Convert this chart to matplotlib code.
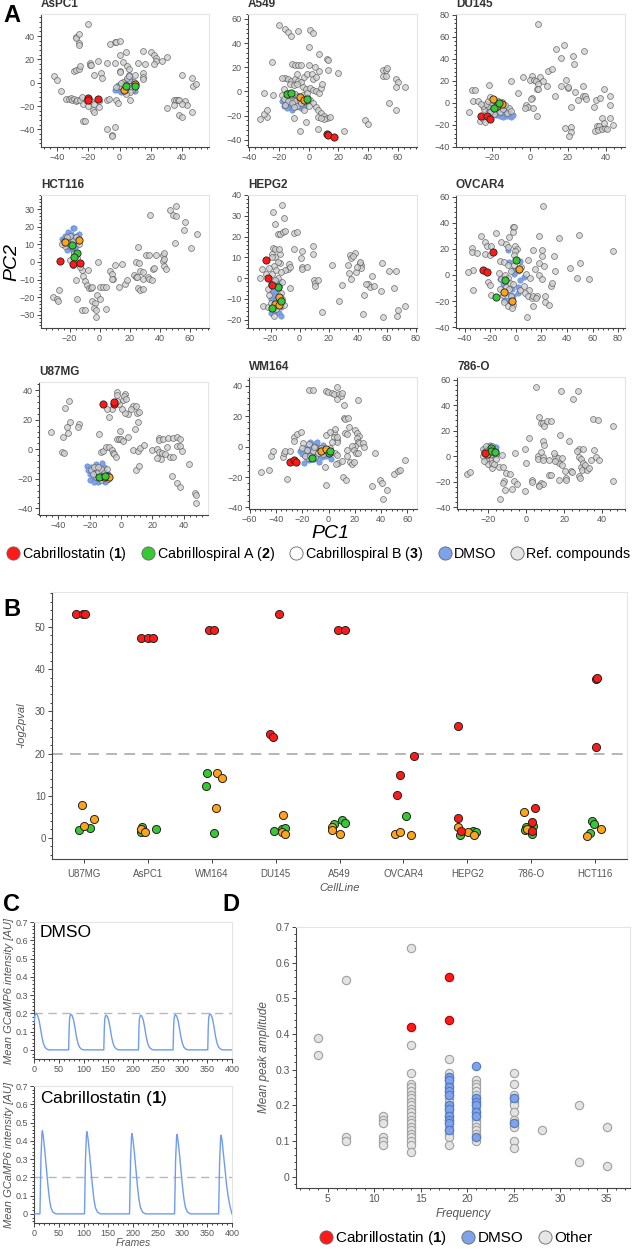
import matplotlib
matplotlib.use("Agg")
import matplotlib.pyplot as plt
from matplotlib.ticker import AutoMinorLocator, MultipleLocator
from matplotlib.lines import Line2D

plt.rcParams['font.family'] = ['Liberation Sans', 'DejaVu Sans']
plt.rcParams['mathtext.fontset'] = 'custom'
plt.rcParams['mathtext.bf'] = 'Liberation Sans:bold'
plt.rcParams['mathtext.rm'] = 'Liberation Sans'

# ---------------- Panel A data (PC1, PC2) ----------------
aspc1_ref = [(-42, 6), (-40, 2), (-37, -7), (-34, -14), (-32, -14), (-31, -13), (-30, -15), (-29, -14), (-28, -16),
             (-27, -15), (-25, -15), (-24, -12), (-23, -18), (-21, -16), (-20, -20), (-23, -33), (-22, -33), (-28, 39),
             (-28, 38), (-26, 42), (-26, 34), (-26, 32), (-20, 50), (-29, 10), (-28, 11), (-26, 12), (-25, 14),
             (-19, 17), (-19, 15), (-18, 15), (-14, 19), (-16, 7), (-12, 8), (-11, 4), (-6, 33), (-3, 35), (-2, 35),
             (0, 36), (0, 24), (4, 26), (2, 18), (5, 14), (6, 12), (0, 10), (0, 9), (-8, 17), (-3, 17), (15, 27),
             (20, 26), (22, 24), (23, 21), (23, 19), (22, 16), (27, 19), (30, 22), (12, 17), (16, 16), (15, 8),
             (15, 5), (15, 3), (10, 7), (6, 7), (-8, -15), (-7, -14), (-2, -15), (-1, -17), (7, -15), (-8, -40),
             (-3, -38), (-5, -45), (-5, -46), (-21, -15), (-18, -16), (-16, -18), (-13, -16), (-13, -21), (-17, -23),
             (-16, -25), (30, -22), (35, -15), (36, -15), (37, -15), (35, -19), (38, -15), (42, -16), (43, -19),
             (38, -28), (40, -29), (40, 7), (46, 4), (47, -3), (49, -1), (46, -25), (40, -18), (0, -3), (2, 1),
             (4, -6), (6, 2), (8, -6), (5, 4), (7, -8), (9, 1), (3, -2), (10, -3), (1, 0), (6, 6), (-2, -4), (4, -10),
             (7, -3)]
aspc1_dmso = [(-1, -6), (1, -3), (2, -1), (3, 0), (4, 2), (5, -2), (6, -4), (7, 0), (8, -2), (9, -5), (5, -7), (3, -8),
              (6, -1), (7, 3), (2, -5), (-3, -6), (10, -7), (4, -4), (8, 1), (1, -8), (-1, -2)]
aspc1_c1 = [(-20, -13), (-20, -15), (-14, -14)]
aspc1_c2 = [(4, -3), (10, -3)]
aspc1_c3 = [(3, -6), (10, -1)]

a549_ref = [(-20, 55), (-16, 52), (-14, 49), (-12, 46), (-7, 50), (1, 51), (3, 48), (0, 37), (7, 31), (12, 27),
            (13, 26), (13, 18), (20, 15), (0, 22), (4, 20), (7, 17), (-11, 23), (-9, 22), (-7, 22), (-5, 22),
            (-25, 24), (-16, 11), (-14, 10), (-12, 9), (-9, 10), (-7, 9), (-5, 8), (-3, 12), (-1, 14), (2, 14),
            (3, 10), (5, 12), (-13, 6), (-10, 5), (-8, 6), (-4, 4), (-2, 2), (1, 3), (3, 1), (5, 0), (7, -1), (8, 3),
            (9, 6), (-18, -3), (-15, -4), (-12, -6), (-9, -8), (-6, -7), (-3, -9), (-1, -5), (1, -7), (3, -10),
            (5, -13), (6, -15), (8, -18), (10, -20), (12, -22), (14, -21), (10, -23), (-10, -22), (-28, -21),
            (-30, -19), (-33, -23), (-28, -15), (-30, -1), (-24, -3), (-6, -33), (-2, -25), (24, -33), (6, -21),
            (8, -22), (-18, 11), (-17, 2), (-15, -1), (-8, 14), (50, 18), (52, 18), (53, 19), (50, 13), (52, 13),
            (59, 10), (60, 8), (59, 4), (65, 4), (54, -10), (59, -15), (38, -24), (40, -27), (6, -31), (-17, -6),
            (-14, -8), (-11, -10), (-8, -12), (-5, -10), (-2, -8), (-12, -3), (-9, -2), (-4, -3), (-1, -1),
            (-16, -11), (-7, -4), (-10, -13), (-3, -15), (0, -12)]
a549_dmso = [(-18, -8), (-16, -10), (-15, -7), (-14, -12), (-13, -9), (-12, -14), (-11, -8), (-10, -11), (-9, -13),
             (-8, -9), (-7, -12), (-6, -10), (-5, -14), (-4, -8), (-3, -12), (-17, -12), (-13, -5), (-9, -6),
             (-15, -14), (-6, -6), (-2, -10), (-11, -15)]
a549_c1 = [(12, -35), (13, -36), (17, -38)]
a549_c2 = [(-15, -2.5), (-12, -1.4), (-1, -6.5)]
a549_c3 = [(-6, -5), (-3, -7.5)]

du145_ref = [(4, 71), (13.5, 49), (18, 52), (28.6, 47), (22.5, 42.6), (16.3, 40.5), (23.3, 35), (9.5, 28.8),
             (11.8, 30.6), (-10, 20), (-3.5, 23), (1, 24), (0, 21), (2, 21), (3, 20), (5, 23), (7, 20), (4, 17),
             (3.5, 12.6), (4.4, 12.6), (8.8, 15), (-6.5, 9), (-21.4, 16.5), (-30.5, 12), (-29, 11.4), (-30.3, 1.5),
             (-27.5, 1.5), (-32.3, -8), (1.2, 4.5), (0.7, 3.6), (-1.9, -2.4), (-0.9, -4.2), (1.4, -5), (-2.6, -4.5),
             (3.9, -11.7), (13.2, 6.3), (16.1, 15), (19.1, 21), (19.8, 13.5), (20.2, 14.1), (23.9, 9.6), (27.9, 15),
             (27.7, 6.6), (28.9, 6), (29.6, 3.6), (25, 2.7), (21.4, -4.2), (34.7, 2.7), (36.8, 4.2), (39, 12.6),
             (42, 6), (41.9, -2.1), (33.9, -3.6), (37.7, -13.5), (42, -13.5), (43.5, -20.4), (18.4, -22.8),
             (21.4, -21.9), (21.6, -26.1), (20.7, -30), (35.3, -21), (36.3, -21), (34.2, -25.5), (36, -24.9),
             (38, -24), (39.6, -22.5), (40.5, -24), (38.8, -18.6), (-26.3, -16.5), (-24.9, -15), (-23.7, -17.4),
             (-24, -6), (-22, -3), (-20, 0), (-18, -3), (-16, -8), (-14, -6), (-12, -9), (-11, -5), (-19, -10),
             (-17, 2), (-13, -2), (-21, -8), (-15, 1), (-10, -7), (-25, -3), (-23, -1), (-22, 2), (-26, -1),
             (-21, 5), (-19, 3)]
du145_dmso = [(-22, -6), (-20, -9), (-18, -11), (-17, -7), (-16, -12), (-15, -9), (-14, -13), (-13, -10), (-12, -12),
              (-11, -8), (-10, -13), (-9, -11), (-19, -4), (-15, -5), (-21, -2), (-12, -6), (-16, -2), (-18, -7)]
du145_c1 = [(-25.8, -11.7), (-22.5, -11.7), (-20.9, -14.4)]
du145_c2 = [(-19, -4.5), (-16.3, 0)]
du145_c3 = [(-19.5, 3.3), (-17.5, -3), (-15, -0.9)]

hct116_ref = [(-27, -15.8), (-31, -20), (-28.4, -21), (-27.8, -22), (-16, -10), (-15, -21), (-12, -4.5), (-11, -8),
              (-9.5, -11), (-7.8, -4.5), (-8.4, -13), (-7, -15), (-5.5, -15), (-5, -14), (-11.6, -27), (-9.4, -27),
              (-4.9, -22), (-3.3, -23.3), (-4, -26), (-2.2, -31.4), (-2.2, -27.4), (-1.8, -18.6), (0, -20.9),
              (-0.9, 0), (0, -14), (2.2, -14), (4, -14), (4, -26.5), (6.7, -4.9), (8.4, -6.8), (8.9, -9.8),
              (8.4, -9.8), (10, -2), (15, -1.3), (12.9, -14), (16.7, -12.4), (18.4, -10.3), (22.7, -7.5), (24, -8.6),
              (25, -8.6), (24, 0), (26.2, -0.4), (25.5, -14.8), (26.7, -15.8), (28.9, -15.2), (26.7, -5.3),
              (28.9, -5.6), (29.3, -9.8), (32.2, -8.6), (33.3, -9.6), (35, -10.1), (30.7, 3.9), (32.9, 3.9),
              (37.8, 3.9), (42.2, 3.9), (43.3, 4.9), (42.2, 0.6), (43.1, -2.3), (44.4, -4), (42.9, 1.5), (25.5, 8.3),
              (33.8, 26.5), (35.6, -4), (36, -3.2), (46.7, 29.7), (51, 31.6), (48.9, 26.5), (50.7, 26), (56.9, 22.4),
              (56.2, 18), (50.2, 10.5), (61, 7.7), (65, 15.8), (-24, 12), (-22, 10), (-20, 9), (-18, 12), (-16, 14),
              (-14, 10), (-20, 15), (-22, 14), (-17, 5), (-15, 2), (-18, -2), (-20, 1), (-13, -3), (-23, 9),
              (-21, 11), (-25, 10)]
hct116_dmso = [(-25, 13), (-24, 10), (-23, 15), (-22, 12), (-21, 17), (-20, 14), (-19, 16), (-18, 19), (-17, 13),
               (-16, 15), (-15, 11), (-14, 16), (-20, 8), (-22, 7), (-18, 6), (-17, 19.5), (-23, 11), (-16, 9),
               (-19, 11)]
hct116_c1 = [(-26.2, 0.4), (-17.8, -0.9), (-12.9, -0.8)]
hct116_c2 = [(-18.2, 9.6), (-15.1, 5.3), (-16.9, 3)]
hct116_c3 = [(-22.9, 11.3), (-14, 12.6)]

hepg2_ref = [(-12.2, 35.4), (-18.4, 31.7), (-11, 29), (-17, 26.2), (-15, 21.4), (-13.3, 21.2), (-11.5, 22.3),
             (-10.3, 22.5), (-4, 21.5), (-1.8, 22), (-4, 14.2), (-18.4, 14.7), (-17, 14.2), (-27, 0), (-26.2, 4.5),
             (-18.9, 11.8), (-13.8, 11.8), (-13.3, 7.4), (-7.4, 6.6), (-8, 4.2), (-10.3, 3.9), (-6.9, -4.7),
             (-25.3, -13.6), (-6.9, 5.3), (2, 12.9), (1.1, 9.9), (1.6, 5.5), (1.6, 4.2), (5, 5.5), (9.2, 15.5),
             (9.2, 11.5), (9.7, -1), (10.3, -2.3), (12.4, -1), (10.3, -3.9), (22.3, 6.5), (29.4, -3.4),
             (27.1, -11.2), (15.4, -16.5), (34.5, 11.3), (35.6, 9.9), (37.9, 12), (36.8, 10.7), (33.3, 6.1),
             (34, 2.6), (35.6, -0.3), (38.6, 3.1), (41.4, 7.4), (42.3, 6.1), (42.5, 4.7), (39.5, 5.5), (41.8, 7.7),
             (47.1, -2.6), (48.3, -4.2), (51, -3.9), (49.9, 1), (46, -2.8), (44.1, -8.1), (43.7, -17.3), (57, 7.4),
             (56.1, -6), (57.5, -18.9), (61.6, 3.4), (65, -4.9), (66.7, 3.4), (67.8, -15.5), (67.4, -18),
             (72.6, -13.6), (-22, -14), (-21, -8), (-20, -3), (-19, 2), (-18, 6), (-17, 10), (-16, 4), (-15, 0),
             (-14, -4), (-13, -7), (-12, -10), (-21, 5), (-20, -12), (-18, -18), (-16, -15), (-15, 8), (-13, 3),
             (-12, -2), (-11, -13), (-19, 10), (-22, -5), (-23, 2), (-17, -1), (-14, 14)]
hepg2_dmso = [(-20, -17), (-19, -14), (-18, -12), (-17, -16), (-16, -10), (-15, -13), (-14, -17), (-13, -14),
              (-17, -8), (-19, -6), (-15, -6), (-14, -9), (-13, -18), (-18, -3), (-16, -1), (-20, -10), (-12, -12),
              (-14, -2)]
hepg2_c1 = [(-23.4, 8.9), (-21.6, 0.2), (-19.3, -3.1)]
hepg2_c2 = [(-15, -4.2), (-13.1, -11), (-18.9, -14.4)]
hepg2_c3 = [(-14.5, -9), (-17.2, -12.5), (-14.5, -12.8)]

ovcar4_ref = [(21.4, 53), (-2.1, 36.5), (-1.3, 36.5), (-2.1, 33.2), (-15.7, 31.9), (-26.9, 30.1), (-24.3, 25),
              (-22.5, 22.4), (-19.1, 21.9), (-33.9, 20.7), (-33.9, 17.3), (-30.3, 16.8), (-23.8, 16.3), (-20.1, 15.6),
              (-11.5, 25.3), (-7.3, 23.7), (-5.2, 28.8), (-5.7, 21.4), (-0.5, 21.9), (1, 19.9), (-0.8, 18.1),
              (-1.3, 15.6), (-12.5, 11), (-9.4, 9.7), (-6, 7.9), (-33.4, 4.1), (-37.1, 2.6), (-33.4, -11.5),
              (-21.7, -5.6), (-20.4, -7.4), (-19.6, -15.3), (-11.5, -3.1), (-8.1, -0.3), (-6, -2.3), (-4.7, -6.1),
              (-2.1, -6.6), (-7.3, -9.2), (-5.2, -11), (-8.9, -20.9), (-6, -24), (-2.1, -22.7), (-2.6, -25.5),
              (3.1, -11.2), (6.3, -8.2), (10.4, -11.2), (7.6, -13.8), (9.7, -16.3), (12.8, -17.6), (13.6, -15.8),
              (16.7, -16.3), (16.2, -17.6), (13.6, -24), (8.9, -32.4), (22.7, -15.8), (23, -20.4), (25.8, -22.7),
              (27.2, -8.7), (28.2, -6.1), (30.3, 3.3), (29.8, 14.8), (17.8, 29.6), (33.9, 28.3), (49.1, 30.6),
              (50.6, 9.2), (42.3, 5.1), (48, -2.3), (57.4, -3.1), (75.7, 18.1), (20.4, 18.9), (20.4, 14.8),
              (18.5, 9.2), (22.2, 7.1), (14.9, 4.6), (17.8, 0.3), (20.6, -3.1), (8.4, 1), (11, -2.3), (13.6, 19.4),
              (9.7, 11.2), (-13, 1.5), (-12.5, -10.7), (-4, 3), (-1, 8), (4, 6), (-10, -15), (-4, -16)]
ovcar4_dmso = [(-6.3, 19.4), (-5.2, 10.2), (3.1, 11), (6.3, -1.3), (3.1, -4), (1.8, -9.4), (-2.9, -10.7),
               (-4.7, -15), (-2.1, -16.3), (-9.4, -18.9), (-12.5, -3.1), (-7.8, -3.6), (-2.1, 4.1), (-1.3, 1),
               (1.8, 2.8), (-10, -7), (-6, -19), (2, -14), (-3, -20)]
ovcar4_c1 = [(-17.5, 17.3), (-25.6, 3.6), (-22.2, 2.3)]
ovcar4_c2 = [(0.5, 11.2), (-8.1, -4.1), (-15.1, -16.8)]
ovcar4_c3 = [(2.3, 4.6), (-8.9, -13), (-2.9, -19.6)]

u87mg_ref = [(-44.7, 11.5), (-37.2, 8.6), (-35.5, 28.2), (-33.1, 32.9), (-34.8, 15.3), (-33.8, 10.8), (-32.7, 18.7),
             (-26.9, 17.3), (-27.4, 15.3), (-37.4, -1.6), (-36.5, -2.3), (-14.1, 10.1), (-13, -1.6), (-11.3, -1.1),
             (-9.6, 1.8), (-7.5, 1.4), (-6, -0.5), (-5.3, -2.3), (-4.5, -3.2), (-3.2, -5), (-2.4, 6.8), (-1.1, 6.8),
             (0, 6.8), (1.5, 5.6), (4.7, 8.6), (7.5, -0.5), (10.7, -1.1), (9.6, -14), (11.8, -11.3), (12.2, 1.1),
             (14.7, 2.9), (-0.6, 12.6), (9, 13.5), (11.1, 18.2), (10.5, 24.8), (11.8, 25), (7.9, 29.3), (9.6, 29.5),
             (6.4, 27.3), (4.7, 23.9), (2.6, 24.8), (0.4, 27), (1.5, 33.3), (-1.1, 30.6), (-2.8, 39), (-2.4, 36.5),
             (2.6, 37.4), (2.1, 36), (3.2, 34), (-7.5, 21.6), (-6, 27), (-9.2, 27), (-2.8, 32.7), (20.1, -0.5),
             (22.9, 0), (24.6, 7.4), (24.6, 6.1), (27.1, 7), (30.3, 7.4), (33.5, 7.4), (36.1, 8.1), (37.8, 6.8),
             (24.6, -1.6), (26.1, -2.3), (28.2, -3.2), (31, -5.4), (33.5, -5.4), (35.7, 2.3), (37.4, 2.3),
             (38.9, -0.9), (25.4, -6.8), (22.9, -6.1), (29.3, 1.8), (32.5, -18), (36.1, -22.5), (38, -25.2),
             (43.6, -10.1), (47.4, -29.7), (48.1, -30.9), (48.1, -36.5), (-19, -14), (-17, -12), (-15, -15),
             (-13, -13), (-11, -16), (-9, -13), (-16, -19), (-18, -17), (-13, -21), (-8, -20), (-12, -18),
             (-15, -12), (-10, -19)]
u87mg_dmso = [(-22, -11), (-21, -14), (-20, -17), (-19, -12), (-18, -20), (-17, -15), (-16, -10), (-15, -22),
              (-14, -13), (-13, -17), (-12, -20), (-11, -12), (-10, -15), (-9, -21), (-8, -17), (-20, -21),
              (-17, -22), (-12, -9), (-10, -22), (-14, -19)]
u87mg_c1 = [(-11.8, 30.6), (-4.3, 30.6), (-4.3, 31.8)]
u87mg_c2 = [(-14.1, -18.9), (-10.5, -17.8)]
u87mg_c3 = [(-9.2, -18), (-7.9, -18.9), (-10.9, -18.5)]

wm164_ref = [(-51.6, -17), (-45.3, -15.2), (-44, -6.5), (-42.5, -2.6), (-35, -7), (-33.9, -3.9), (-33.2, -3),
             (-31.9, -21.3), (-29.4, -2.8), (-26.1, 6.1), (-26.1, 3.7), (-23.8, 8.3), (-21, 9.3), (-19.2, 2.6),
             (-14.7, 37.4), (-11.6, 37.4), (-2, 36.5), (-0.5, 35.9), (2.3, 35.4), (4.3, 34.8), (6.6, 39.1),
             (8.1, 34.8), (9.4, 33), (6.1, 31.5), (9.9, 35.2), (11.9, 27.2), (22.3, 30.4), (11.6, 18.9), (12.2, 18),
             (14.9, 18.5), (15.4, 13), (20, 10.9), (21.8, 9.1), (22.8, 7), (21.3, 5.4), (22.3, 3.3), (23.3, 2.6),
             (26.3, 2.6), (26.8, -0.4), (20, 0.4), (17.5, 0.4), (19.2, -2.2), (20.8, -3.9), (22.5, -4.3),
             (16.7, -10.4), (17.5, -11.3), (19.5, -10.4), (12.9, 8.7), (14.4, 8), (4.1, 8.7), (5.3, 11.3),
             (4.1, 6.5), (6.1, 4.3), (6.8, 3.3), (3, 3.3), (-2, 7.6), (1, 9.8), (6.1, 6.5), (4.8, -4.3), (6.1, -5.4),
             (7.3, -10.9), (5.6, -11.3), (10.4, -9.8), (13.7, -2.2), (13.7, -6.5), (-3, -13.5), (-1.8, -25),
             (11.1, -20), (13.2, -21.7), (35.2, -3.9), (32.7, -25.7), (39, -21.7), (40.3, -23.9), (41.5, -34.3),
             (44.6, -28.7), (49.6, -17.8), (52.9, -16.3), (54.2, -15.2), (58.5, -8.7), (-10.4, -0.4),
             (-15.4, -7.6), (-20, -1), (-18, -6), (-16, -2), (-14, -6), (-12, -3), (-10, -7), (-8, -4), (-6, -1),
             (-4, -5), (-2, -2), (1, -1), (-15, 2), (-11, 0)]
wm164_dmso = [(-22, -3), (-20, -5), (-18, -1), (-17, -7), (-16, -3), (-15, -9), (-14, -1), (-13, -5), (-12, 2),
              (-11, -8), (-10, -2), (-9, -6), (-8, 0), (-7, -10), (-6, -4), (-5, -7), (-3, -3), (-2, -6), (0, -5),
              (2, -8), (-19, -11), (-14, 3), (-9, 3), (-4, 1)]
wm164_c1 = [(-29.4, -10.4), (-26.1, -8.7), (-24.8, -10)]
wm164_c2 = [(-12.2, -7.8), (0.3, -3.9), (1, -2.6)]
wm164_c3 = [(-6.1, -2.8), (-2, -1.7)]

o786_ref = [(4.9, 53.8), (18.1, 51.2), (27.2, 51.2), (24.6, 44.4), (6.5, 30.9), (7.9, 26.2), (9.1, 25.7),
            (9.6, 23.6), (10.9, 27.8), (13, 27.8), (35.1, 29.4), (38.1, 28.3), (45.6, 23.9), (17.9, 16.6),
            (22.6, 11.7), (1.6, 14.5), (9.1, 12.2), (9.6, 8.8), (28.1, 5.5), (30.2, 6), (35.8, 4.9), (26.7, 4.4),
            (-0.4, 6), (-5.8, 2.3), (0, -5.5), (6, 0.3), (6, -1.8), (8.8, -0.8), (7.9, 3.6), (8.8, -2.9),
            (11.8, -2.9), (15.3, 0.3), (16.1, -3.6), (17.2, -5.5), (18.8, -7), (14.4, 2.9), (17, -1), (15.3, -3.4),
            (11.8, -14.5), (13, -14.5), (17.5, -18.4), (20.5, -11.4), (21.1, -17.1), (23.5, -11.4), (24.1, -12.2),
            (21.1, -18.4), (7, -22.3), (7.7, -21), (9.1, -21.8), (6.5, -23.6), (3, -18.4), (3.3, -20.3),
            (28.1, -0.3), (29, -2.3), (29, -8.1), (30.2, -5.5), (31.1, -6.5), (28.1, -15.8), (28.4, -17.1),
            (29.3, -10.6), (32.3, -10.6), (33.3, -9.4), (34, -2.9), (36.9, -0.8), (38.6, -2.9), (45.6, -19.2),
            (19.1, -1.6), (-0.5, -27.5), (-6.7, -19.7), (-4.9, -21.8), (-7.5, -25.5), (-11.6, -19.2), (-12.5, -21),
            (-11, -26.2), (-13.7, -33.2), (-14.4, -8.1), (-12.5, -8.8), (-10.5, -13.2), (-8.8, -13.8),
            (-12.8, 1), (-31.2, -13.8), (-29.5, -12.7), (-18.1, -9.4), (-23, 6), (-22, 3), (-21, 8), (-20, 5),
            (-19, 1), (-18, 8), (-17, 4), (-16, 2), (-19, -3), (-20, -6), (-18, -5), (-21, -2), (-23, 0),
            (-17, -6), (-16, -2), (-22, -4)]
o786_dmso = [(-22, 6), (-21, 3), (-20, 8), (-19, 5), (-18, 2), (-17, 7), (-16, 4), (-21, 0), (-19, 9), (-17, 1),
             (-20, -1), (-16, 7)]
o786_c1 = [(-21.6, 2.9)]
o786_c2 = [(-18.6, 6.2), (-18.6, 4.4), (-16.3, 3.4)]
o786_c3 = [(-20.7, 1.6)]

# ---------------- Panel B data ----------------
cell_lines = ['U87MG', 'AsPC1', 'WM164', 'DU145', 'A549', 'OVCAR4', 'HEPG2', '786-O', 'HCT116']
b_c1_cat = [0, 0, 0, 1, 1, 1, 2, 2, 3, 3, 3, 4, 4, 5, 5, 5, 6, 6, 6, 7, 7, 7, 8, 8, 8]
b_c1_jit = [-0.13, -0.02, 0.01, -0.11, 0.0, 0.08, -0.05, 0.03, 0.06, -0.09, -0.04, -0.03, 0.09, -0.06, -0.1, 0.16,
            -0.15, -0.14, -0.1, 0.06, 0.01, 0.02, 0.01, 0.03, 0.01]
b_c1_val = [53, 53, 53, 47.5, 47.5, 47.5, 49.2, 49.2, 53, 24.6, 23.9, 49.2, 49.2, 15.0, 10.2, 19.5, 26.5, 4.7, 1.7,
            7.1, 3.7, 1.7, 37.6, 38.0, 21.6]
b_c2_cat = [0, 0, 1, 1, 1, 2, 2, 2, 3, 3, 3, 4, 4, 4, 5, 6, 6, 6, 7, 7, 7, 7, 8, 8, 8]
b_c2_jit = [-0.08, 0.1, -0.09, -0.11, 0.13, -0.08, -0.09, 0.04, -0.03, 0.1, 0.15, -0.09, 0.04, 0.08, 0.04, -0.12,
            0.09, 0.14, -0.08, 0.03, 0.01, -0.1, -0.05, -0.02, -0.08]
b_c2_val = [1.8, 2.4, 2.7, 1.5, 2.0, 15.4, 12.2, 1.2, 1.7, 2.2, 2.4, 3.4, 4.2, 3.5, 5.3, 0.6, 1.7, 1.4, 2.7, 2.9,
            0.9, 1.8, 4.1, 3.3, 1.2]
b_c3_cat = [0, 0, 0, 1, 1, 2, 2, 2, 3, 3, 3, 4, 4, 4, 5, 5, 5, 6, 6, 6, 7, 7, 8, 8]
b_c3_jit = [-0.03, 0.0, 0.15, -0.1, -0.04, 0.08, 0.16, 0.06, 0.11, 0.1, 0.14, -0.11, -0.11, 0.0, -0.13, -0.05, 0.12,
            -0.14, 0.01, 0.11, -0.11, -0.06, -0.12, 0.1]
b_c3_val = [7.9, 2.9, 4.6, 2.1, 1.3, 15.4, 14.2, 7.0, 5.4, 1.4, 0.9, 2.7, 1.8, 0.9, 1.0, 1.3, 0.6, 2.5, 1.4, 0.7,
            6.1, 2.0, 0.4, 2.2]
b_threshold = 20

# ---------------- Panel C data ----------------
dmso_frames = [0, 2, 4, 7, 10, 13, 16, 19, 22, 26, 30, 70,
               71, 72, 74, 77, 80, 83, 86, 89, 92, 96, 100, 141,
               142, 143, 145, 148, 151, 154, 157, 160, 163, 167, 171, 211,
               212, 213, 215, 218, 221, 224, 227, 230, 233, 237, 241, 281,
               282, 283, 285, 288, 291, 294, 297, 300, 303, 307, 311, 351,
               352, 353, 355, 358, 361, 364, 367, 370, 373, 377, 381, 400]
dmso_signal = [0.15, 0.19, 0.2, 0.19, 0.165, 0.12, 0.07, 0.035, 0.015, 0.004, 0.0, 0.0,
               0.12, 0.175, 0.195, 0.188, 0.163, 0.118, 0.068, 0.034, 0.014, 0.004, 0.0, 0.0,
               0.115, 0.17, 0.19, 0.184, 0.16, 0.116, 0.067, 0.033, 0.014, 0.004, 0.0, 0.0,
               0.115, 0.17, 0.19, 0.184, 0.16, 0.116, 0.067, 0.033, 0.014, 0.004, 0.0, 0.0,
               0.118, 0.172, 0.193, 0.186, 0.162, 0.117, 0.068, 0.034, 0.014, 0.004, 0.0, 0.0,
               0.12, 0.177, 0.198, 0.19, 0.165, 0.12, 0.07, 0.035, 0.015, 0.004, 0.0, 0.0]
cab_frames = [0, 12, 14, 16, 17, 19, 22, 25, 28, 31, 34, 38, 44, 102,
              104, 106, 107, 109, 112, 115, 118, 121, 124, 128, 134, 193,
              195, 197, 198, 200, 203, 206, 209, 212, 215, 219, 225, 284,
              286, 288, 289, 291, 294, 297, 300, 303, 306, 310, 316, 373,
              375, 377, 378, 380, 383, 386, 389, 392, 396, 400]
cab_signal = [0.0, 0.0, 0.3, 0.44, 0.455, 0.42, 0.34, 0.25, 0.16, 0.085, 0.035, 0.01, 0.0, 0.0,
              0.3, 0.435, 0.45, 0.415, 0.335, 0.245, 0.155, 0.08, 0.035, 0.01, 0.0, 0.0,
              0.29, 0.425, 0.44, 0.405, 0.33, 0.24, 0.15, 0.08, 0.035, 0.01, 0.0, 0.0,
              0.29, 0.42, 0.435, 0.4, 0.325, 0.235, 0.15, 0.08, 0.035, 0.01, 0.0, 0.0,
              0.29, 0.415, 0.43, 0.4, 0.32, 0.24, 0.16, 0.1, 0.04, 0.0]
c_threshold = 0.2

# ---------------- Panel D data ----------------
d_other = {4: [0.39, 0.34],
           7: [0.55, 0.11, 0.10],
           11: [0.17, 0.16, 0.15, 0.11, 0.10, 0.09],
           14: [0.64, 0.37, 0.29, 0.26, 0.25, 0.24, 0.23, 0.22, 0.21, 0.20, 0.19, 0.18, 0.17, 0.16, 0.15, 0.14,
                0.13, 0.12, 0.11, 0.10, 0.09, 0.07],
           18: [0.33, 0.29, 0.28, 0.27, 0.26, 0.25, 0.24, 0.23, 0.22, 0.21, 0.20, 0.19, 0.18, 0.17, 0.16, 0.15,
                0.14, 0.13, 0.12, 0.11, 0.09],
           21: [0.27, 0.26, 0.25, 0.24, 0.23, 0.22, 0.21, 0.20, 0.19, 0.18, 0.17, 0.16, 0.15, 0.14, 0.13, 0.12,
                0.11, 0.10],
           25: [0.29, 0.26, 0.23, 0.22, 0.21, 0.20, 0.18, 0.16, 0.15, 0.14, 0.10, 0.08],
           28: [0.13],
           32: [0.20, 0.04],
           35: [0.14, 0.03]}
d_dmso = {18: [0.28, 0.27, 0.25, 0.24, 0.23, 0.20, 0.19, 0.17, 0.16, 0.15, 0.13],
          21: [0.31, 0.22, 0.21, 0.20, 0.18, 0.17, 0.11],
          25: [0.22, 0.15]}
d_c1 = {14: [0.42], 18: [0.56, 0.44]}

# ---------------- colours ----------------
RED = '#ff1a1a'
GREEN = '#35c935'
ORANGE = '#ffa31a'
BLUE = '#7ea3e8'
TXT = '#555555'

W, H = 632, 1249
fig = plt.figure(figsize=(W / 100, H / 100), dpi=100)


def add_px(l, t, r, b):
    return fig.add_axes([l / W, 1 - b / H, (r - l) / W, (b - t) / H])


def style(ax, labelsize=6.5):
    for s in ['top', 'right']:
        ax.spines[s].set_color('#e4e4e4')
        ax.spines[s].set_linewidth(0.8)
    for s in ['left', 'bottom']:
        ax.spines[s].set_color('#444444')
        ax.spines[s].set_linewidth(0.8)
    ax.tick_params(which='both', direction='out', color='#444444', labelcolor=TXT,
                   labelsize=labelsize, width=0.7, pad=1.5)
    ax.tick_params(which='major', length=3)
    ax.tick_params(which='minor', length=1.5)


def xy(points):
    return [p[0] for p in points], [p[1] for p in points]


def pca_panel(box, name, ref, dmso, c1, c2, c3, xlim, ylim, xstep, ystep):
    ax = add_px(*box)
    ax.scatter(*xy(dmso), s=15, c=BLUE, edgecolors='#5f86cf', linewidths=0.4, zorder=2)
    ax.scatter(*xy(ref), s=18, c='#d0d0d0', edgecolors='#5a5a5a', linewidths=0.55, alpha=0.8, zorder=3)
    for pts, col in [(c3, ORANGE), (c2, GREEN), (c1, RED)]:
        ax.scatter(*xy(pts), s=27, c=col, edgecolors='#222222', linewidths=0.6, zorder=4)
    ax.set_xlim(xlim)
    ax.set_ylim(ylim)
    ax.xaxis.set_major_locator(MultipleLocator(xstep))
    ax.yaxis.set_major_locator(MultipleLocator(ystep))
    ax.xaxis.set_minor_locator(AutoMinorLocator(5))
    ax.yaxis.set_minor_locator(AutoMinorLocator(5))
    style(ax)
    ax.text(0.0, 1.03, name, transform=ax.transAxes, fontsize=8.5, fontweight='bold',
            color='#333333', ha='left', va='bottom')
    return ax


pca_panel((41, 14, 209, 147), 'AsPC1', aspc1_ref, aspc1_dmso, aspc1_c1, aspc1_c2, aspc1_c3,
          (-50, 57), (-55, 59), 20, 20)
pca_panel((248, 14, 417, 147), 'A549', a549_ref, a549_dmso, a549_c1, a549_c2, a549_c3,
          (-41, 73), (-46, 64), 20, 20)
pca_panel((456, 14, 625, 147), 'DU145', du145_ref, du145_dmso, du145_c1, du145_c2, du145_c3,
          (-39, 50), (-40, 80.5), 20, 20)
pca_panel((41, 195, 209, 328), 'HCT116', hct116_ref, hct116_dmso, hct116_c1, hct116_c2, hct116_c3,
          (-39, 73), (-37.5, 38), 20, 10)
pca_panel((248, 195, 417, 328), 'HEPG2', hepg2_ref, hepg2_dmso, hepg2_c1, hepg2_c2, hepg2_c3,
          (-35.6, 81), (-24, 40), 20, 10)
pca_panel((456, 195, 625, 328), 'OVCAR4', ovcar4_ref, ovcar4_dmso, ovcar4_c1, ovcar4_c2, ovcar4_c3,
          (-46.7, 85.4), (-40.6, 61.2), 20, 20)
pca_panel((39, 382, 208, 515), 'U87MG', u87mg_ref, u87mg_dmso, u87mg_c1, u87mg_c2, u87mg_c3,
          (-52.4, 55.6), (-44.4, 45.5), 20, 20)
pca_panel((249, 377, 417, 509), 'WM164', wm164_ref, wm164_dmso, wm164_c1, wm164_c2, wm164_c3,
          (-60.5, 67.3), (-41, 45.7), 20, 20)
pca_panel((457, 377, 625, 509), '786-O', o786_ref, o786_dmso, o786_c1, o786_c2, o786_c3,
          (-36.5, 52.1), (-41.3, 62), 20, 20)

fig.text(12 / W, 1 - 262 / H, 'PC2', rotation=90, fontsize=14, fontstyle='italic', ha='center', va='center')
fig.text(330 / W, 1 - 533 / H, 'PC1', fontsize=14, fontstyle='italic', ha='center', va='center')

legend_a = [
    Line2D([], [], ls='', marker='o', ms=9.5, mfc=RED, mec='#666666', mew=0.6, label='Cabrillostatin ($\\mathbf{1}$)'),
    Line2D([], [], ls='', marker='o', ms=9.5, mfc=GREEN, mec='#666666', mew=0.6, label='Cabrillospiral A ($\\mathbf{2}$)'),
    Line2D([], [], ls='', marker='o', ms=9.5, mfc='white', mec='#666666', mew=0.6, label='Cabrillospiral B ($\\mathbf{3}$)'),
    Line2D([], [], ls='', marker='o', ms=9.5, mfc=BLUE, mec='#666666', mew=0.6, label='DMSO'),
    Line2D([], [], ls='', marker='o', ms=9.5, mfc='#e6e6e6', mec='#666666', mew=0.6, label='Ref. compounds'),
]
fig.legend(handles=legend_a, loc='center', bbox_to_anchor=(318 / W, 1 - 554 / H), ncol=5, frameon=False,
           fontsize=10.3, handletextpad=0.1, columnspacing=1.0, handlelength=1.0, borderpad=0)

# ---------------- Panel B ----------------
axb = add_px(52, 592, 627, 859)
for cats, jit, vals, col in [(b_c2_cat, b_c2_jit, b_c2_val, GREEN), (b_c3_cat, b_c3_jit, b_c3_val, ORANGE),
                             (b_c1_cat, b_c1_jit, b_c1_val, RED)]:
    axb.scatter([c + j for c, j in zip(cats, jit)], vals, s=34, c=col, edgecolors='#222222',
                linewidths=0.7, zorder=3)
axb.axhline(b_threshold, color='#b0b0b0', lw=1.3, ls=(0, (6, 4)), zorder=1)
axb.set_xlim(-0.5, len(cell_lines) - 0.5)
axb.set_ylim(-5, 58.3)
axb.set_xticks(range(len(cell_lines)))
axb.set_xticklabels(cell_lines)
axb.yaxis.set_major_locator(MultipleLocator(10))
axb.yaxis.set_minor_locator(MultipleLocator(2))
style(axb, labelsize=7)
axb.tick_params(axis='x', pad=4)
axb.set_xlabel('CellLine', fontsize=8, fontstyle='italic', color=TXT, labelpad=3)
axb.set_ylabel('-log2pval', fontsize=8, fontstyle='italic', color=TXT, labelpad=6)

# ---------------- Panel C ----------------
for box, frames, signal, title in [((34, 922, 232, 1059), dmso_frames, dmso_signal, 'DMSO'),
                                   ((34, 1086, 232, 1223), cab_frames, cab_signal, 'Cabrillostatin ($\\mathbf{1}$)')]:
    axc = add_px(*box)
    axc.plot(frames, signal, color='#6f9cf0', lw=1.0, zorder=3)
    axc.axhline(c_threshold, color='#b8b8b8', lw=1.0, ls=(0, (6, 4)), zorder=1)
    axc.set_xlim(0, 400)
    axc.set_ylim(-0.05, 0.7)
    axc.xaxis.set_major_locator(MultipleLocator(50))
    axc.xaxis.set_minor_locator(MultipleLocator(10))
    axc.yaxis.set_major_locator(MultipleLocator(0.1))
    axc.yaxis.set_minor_locator(MultipleLocator(0.02))
    axc.yaxis.set_major_formatter(plt.FuncFormatter(lambda v, p: '0' if abs(v) < 1e-9 else f'{v:.1f}'))
    style(axc, labelsize=6.5)
    axc.set_ylabel('Mean GCaMP6 intensity [AU]', fontsize=8, fontstyle='italic', color=TXT, labelpad=1)
    axc.text(0.03, 0.98, title, transform=axc.transAxes, fontsize=12.5, ha='left', va='top', color='black')
axc.set_xlabel('Frames', fontsize=7.5, fontstyle='italic', color=TXT, labelpad=0)

# ---------------- Panel D ----------------
axd = add_px(296, 927, 630, 1188)
for groups, face, edge in [(d_other, '#e3e3e3', '#a0a0a0'), (d_dmso, BLUE, '#5479c4'), (d_c1, RED, '#b00000')]:
    fx = [f for f, amps in groups.items() for _ in amps]
    fy = [a for amps in groups.values() for a in amps]
    axd.scatter(fx, fy, s=36, c=face, edgecolors=edge, linewidths=0.8, zorder=3)
axd.set_xlim(1.6, 37.5)
axd.set_ylim(-0.032, 0.7)
axd.xaxis.set_major_locator(MultipleLocator(5))
axd.xaxis.set_minor_locator(MultipleLocator(1))
axd.yaxis.set_major_locator(MultipleLocator(0.1))
axd.yaxis.set_minor_locator(MultipleLocator(0.02))
axd.yaxis.set_major_formatter(plt.FuncFormatter(lambda v, p: '0' if abs(v) < 1e-9 else f'{v:.1f}'))
style(axd, labelsize=7.5)
axd.set_xlabel('Frequency', fontsize=8.5, fontstyle='italic', color=TXT, labelpad=3)
axd.set_ylabel('Mean peak amplitude', fontsize=8.5, fontstyle='italic', color=TXT, labelpad=4)

legend_d = [
    Line2D([], [], ls='', marker='o', ms=9.5, mfc=RED, mec='#666666', mew=0.6, label='Cabrillostatin ($\\mathbf{1}$)'),
    Line2D([], [], ls='', marker='o', ms=9.5, mfc=BLUE, mec='#666666', mew=0.6, label='DMSO'),
    Line2D([], [], ls='', marker='o', ms=9.5, mfc='#e6e6e6', mec='#666666', mew=0.6, label='Other'),
]
fig.legend(handles=legend_d, loc='center', bbox_to_anchor=(455 / W, 1 - 1238 / H), ncol=3, frameon=False,
           fontsize=11, handletextpad=0.1, columnspacing=0.9, handlelength=1.0, borderpad=0)

# panel letters
for letter, x, y in [('A', 3, 4), ('B', 3, 598), ('C', 3, 893), ('D', 222, 893)]:
    fig.text(x / W, 1 - y / H, letter, fontsize=17, fontweight='bold', ha='left', va='top')

fig.savefig('out.png', dpi=100)
